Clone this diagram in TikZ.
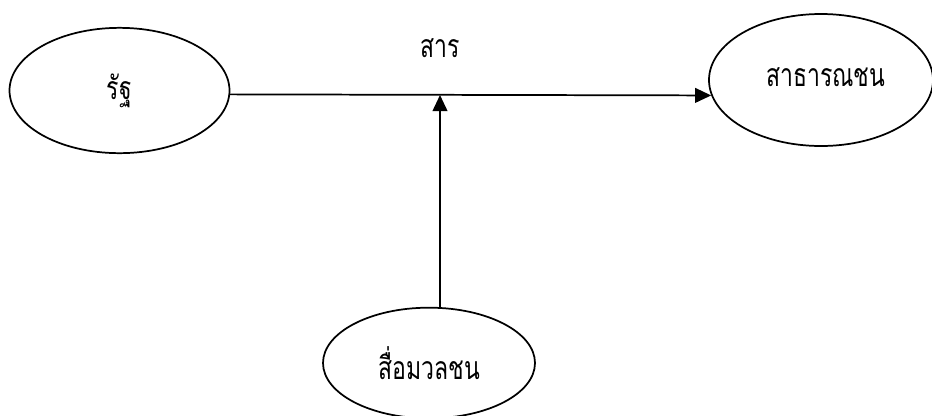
\documentclass[tikz,border=0pt]{standalone}
\usepackage{fontspec}
\newfontfamily\thaifont[Script=Thai,FakeStretch=0.72]{Loma}
\usetikzlibrary{shapes.geometric,arrows.meta}

\begin{document}
\begin{tikzpicture}[x=0.75pt,y=-0.75pt,
  actor/.style={ellipse, draw, line width=1.3pt, inner sep=0pt,
    font=\thaifont\fontsize{24}{28}\selectfont},
  flow/.style={line width=1.3pt, -{Triangle[width=11pt,length=12pt]}}]
  \useasboundingbox (0,0) rectangle (932,415);

  \node[actor, minimum width=165pt, minimum height=94pt] (state) at (119.5,90.5) {รัฐ};
  \node[actor, minimum width=168pt, minimum height=99pt] (public) at (821,80) {\hspace{7pt}\raisebox{5pt}{สาธารณชน}};
  \node[actor, minimum width=159pt, minimum height=83pt] (media) at (429,363) {สื่อมวลชน};

  \coordinate (junction) at (440,95);
  \node[font=\thaifont\fontsize{24}{28}\selectfont] (msg) at (440,48) {สาร};

  \draw[flow] (state.-2) -- (public.188);
  \draw[flow] (media.north -| junction) -- (junction);
\end{tikzpicture}
\end{document}
